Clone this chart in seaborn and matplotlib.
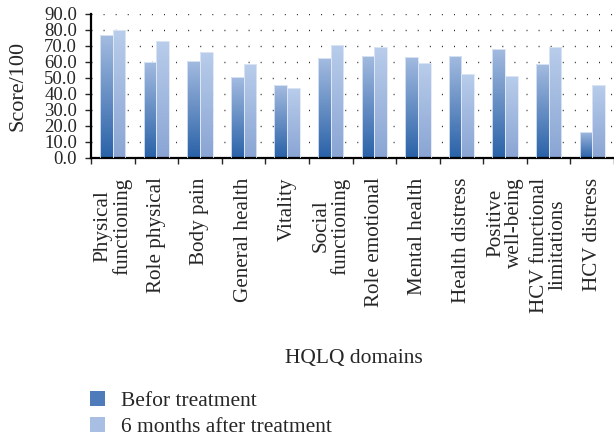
import numpy as np
import pandas as pd
import matplotlib
matplotlib.use('Agg')
import matplotlib.pyplot as plt
import seaborn as sns
from matplotlib.patches import Patch
from matplotlib.colors import LinearSegmentedColormap

# data
dominios = ['Physical\nfunctioning', 'Role physical', 'Body pain', 'General health',
            'Vitality', 'Social\nfunctioning', 'Role emotional', 'Mental health',
            'Health distress', 'Positive\nwell-being', 'HCV functional\nlimitations',
            'HCV distress']
antes = [76.6, 60.3, 60.7, 50.6, 45.6, 62.3, 64.0, 63.4, 63.8, 68.2, 58.6, 16.3]
depois = [80.3, 73.2, 66.5, 59.0, 43.5, 70.7, 69.5, 59.6, 52.7, 51.5, 69.5, 45.8]
grupos = ['Befor treatment', '6 months after treatment']

dados = pd.DataFrame({
    'dominio': dominios * 2,
    'score': antes + depois,
    'grupo': [grupos[0]] * len(dominios) + [grupos[1]] * len(dominios),
})

sns.set_style('white')
plt.rcParams['font.family'] = ['Liberation Serif', 'DejaVu Serif']

fig = plt.figure(figsize=(6.14, 4.37), dpi=100)
ax = fig.add_axes([91 / 614, (437 - 158) / 437, (614 - 91) / 614, 144 / 437])

# cores (baixo -> topo) de cada serie
cores = {
    grupos[0]: ('#2a62a8', '#a3bbe0'),
    grupos[1]: ('#8aa5d4', '#b9cdeb'),
}

sns.barplot(data=dados, x='dominio', y='score', hue='grupo', hue_order=grupos,
            order=dominios, width=0.58, palette=['#5a82c0', '#a8bfe3'],
            legend=False, ax=ax)

# gradiente em cada barra
n = len(dominios)
for i, p in enumerate(ax.patches):
    if p.get_height() <= 0:
        continue
    g = grupos[0] if i < n else grupos[1]
    cmap = LinearSegmentedColormap.from_list('g', [cores[g][0], cores[g][1]])
    x0, y0 = p.get_x(), p.get_y()
    w, h = p.get_width(), p.get_height()
    grad = np.linspace(0, 1, 100).reshape(-1, 1)
    im = ax.imshow(grad, cmap=cmap, origin='lower', aspect='auto',
                   extent=[x0, x0 + w, y0, y0 + h], zorder=2)
    im.set_clip_path(p)
    p.set_facecolor('none')
    p.set_edgecolor('#dfe8f5')
    p.set_linewidth(0.6)
    p.set_zorder(3)

ax.set_xlim(-0.5, 11.386)
ax.set_ylim(0, 90)
ax.set_yticks(np.arange(0, 91, 10))
ax.set_yticklabels([f'{v:.1f}' for v in np.arange(0, 91, 10)], fontsize=13.5)

# ticks entre as categorias, rotulos no centro
ax.set_xticks(np.arange(-0.5, 12, 1))
ax.set_xticklabels([])
ax.set_xticks(np.arange(n), minor=True)
ax.set_xticklabels(dominios, minor=True, rotation=90, fontsize=15.2,
                   va='top', ha='center', linespacing=1.0)
ax.tick_params(axis='x', which='minor', length=0, pad=14)
ax.tick_params(axis='x', which='major', length=4, width=1, direction='out', bottom=True)
ax.tick_params(axis='y', length=4, width=1, direction='out', left=True, pad=6)

ax.yaxis.grid(True, color='#222222', linewidth=1.0, linestyle=(0, (0.7, 8)))
ax.set_axisbelow(True)

for s in ['top', 'right']:
    ax.spines[s].set_visible(False)
for s in ['left', 'bottom']:
    ax.spines[s].set_color('black')
    ax.spines[s].set_linewidth(1.6)

ax.set_xlabel('')
ax.set_ylabel('Score/100', fontsize=16, labelpad=12)
fig.text(354 / 614, 1 - 358 / 437, 'HQLQ domains', fontsize=15.5, ha='center', va='center')

handles = [Patch(facecolor='#4f7bbb', edgecolor='none'),
           Patch(facecolor='#a8bfe3', edgecolor='none')]
fig.legend(handles, grupos, loc='lower left', bbox_to_anchor=(0.126, -0.03),
           frameon=False, fontsize=15.5, handlelength=0.7, handleheight=0.7,
           handletextpad=0.75, labelspacing=0.3, borderaxespad=0.2)

fig.savefig('out.png', dpi=100)
